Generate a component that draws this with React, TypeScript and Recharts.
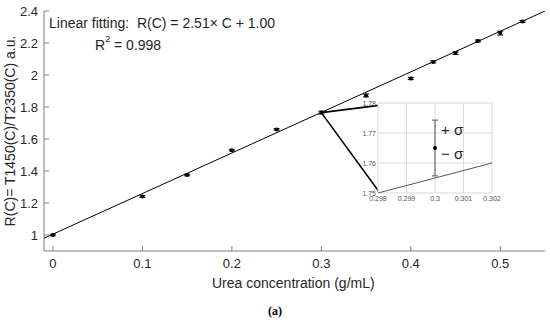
import { ComposedChart, Scatter, ErrorBar, XAxis, YAxis, CartesianGrid, ReferenceLine } from 'recharts';

const concentration = [0, 0.1, 0.15, 0.2, 0.25, 0.3, 0.35, 0.4, 0.425, 0.45, 0.475, 0.5, 0.525];
const ratio = [1.0, 1.24, 1.375, 1.53, 1.66, 1.765, 1.872, 1.978, 2.082, 2.137, 2.213, 2.262, 2.335];
const sigma = [0.005, 0.006, 0.005, 0.005, 0.005, 0.009, 0.009, 0.007, 0.006, 0.008, 0.006, 0.012, 0.006];

const fitX = [-0.01, 0.55];
const fitY = [0.98, 2.4];

const xTicks = [0, 0.1, 0.2, 0.3, 0.4, 0.5];
const yTicks = [1, 1.2, 1.4, 1.6, 1.8, 2, 2.2, 2.4];

// inset (zoom around C = 0.3)
const insetXTicks = [0.298, 0.299, 0.3, 0.301, 0.302];
const insetYTicks = [1.75, 1.76, 1.77, 1.78];
const insetPoint = [{ x: 0.3, y: 1.765, err: 0.0093 }];
const insetFitX = [0.298, 0.302];
const insetFitY = [1.75, 1.76];

// connectors from the main point to the inset corners (main data coords)
const connectors = [
  [{ x: 0.3, y: 1.765 }, { x: 0.3645, y: 1.81 }],
  [{ x: 0.3, y: 1.765 }, { x: 0.3645, y: 1.27 }],
];

const points = concentration.map((c, i) => ({ x: c, y: ratio[i], err: sigma[i] }));
const fitData = fitX.map((x, i) => ({ x, y: fitY[i] }));
const insetFit = insetFitX.map((x, i) => ({ x, y: insetFitY[i] }));

const FONT = '"Liberation Sans", Arial, sans-serif';
const AXIS = '#808080';
const TEXT = '#262626';

const Dot = (p: any) => <circle cx={p.cx} cy={p.cy} r={2} fill="#000" />;
const Nothing = () => <g />;

const bottomTick = (p: any) => (
  <g>
    <line x1={p.x} y1={p.y - 8} x2={p.x} y2={p.y - 13} stroke={AXIS} />
    <text x={p.x} y={p.y} dy="0.71em" textAnchor="middle" fontSize={13} fill={TEXT} fontFamily={FONT}>
      {p.payload.value}
    </text>
  </g>
);
const leftTick = (p: any) => (
  <g>
    <line x1={p.x + 6} y1={p.y} x2={p.x + 11} y2={p.y} stroke={AXIS} />
    <text x={p.x} y={p.y} dy="0.36em" textAnchor="end" fontSize={13} fill={TEXT} fontFamily={FONT}>
      {p.payload.value}
    </text>
  </g>
);
const topTick = (p: any) => <line x1={p.x} y1={p.y} x2={p.x} y2={p.y + 5} stroke={AXIS} />;
const rightTick = (p: any) => <line x1={p.x} y1={p.y} x2={p.x - 5} y2={p.y} stroke={AXIS} />;

const insetBottomTick = (p: any) => (
  <text x={p.x} y={p.y} dy="0.71em" textAnchor="middle" fontSize={7} fill="#555" fontFamily={FONT}>
    {p.payload.value}
  </text>
);
const insetLeftTick = (p: any) => (
  <text x={p.x} y={p.y} dy="0.36em" textAnchor="end" fontSize={7} fill="#555" fontFamily={FONT}>
    {p.payload.value}
  </text>
);

function Inset() {
  return (
    <ComposedChart width={150} height={106} margin={{ top: 5, right: 16, bottom: 0, left: 0 }}>
      <CartesianGrid stroke="#d9d9d9" fill="#fff" horizontalValues={insetYTicks} verticalValues={insetXTicks} />
      <XAxis
        type="number"
        dataKey="x"
        domain={[0.298, 0.302]}
        ticks={insetXTicks}
        interval={0}
        allowDataOverflow
        axisLine={false}
        tickLine={false}
        tickSize={0}
        tickMargin={3}
        height={11}
        tick={insetBottomTick}
      />
      <YAxis
        type="number"
        dataKey="y"
        domain={[1.75, 1.78]}
        ticks={insetYTicks}
        interval={0}
        allowDataOverflow
        axisLine={false}
        tickLine={false}
        tickSize={0}
        tickMargin={2}
        width={20}
        tick={insetLeftTick}
      />
      <Scatter data={insetFit} line={{ stroke: '#555', strokeWidth: 1 }} shape={Nothing} isAnimationActive={false} />
      <Scatter data={insetPoint} shape={Dot} isAnimationActive={false}>
        <ErrorBar dataKey="err" direction="y" width={3} stroke="#555" strokeWidth={1} />
      </Scatter>
    </ComposedChart>
  );
}

export default function App() {
  const text = { position: 'absolute' as const, fontFamily: FONT, color: TEXT, whiteSpace: 'nowrap' as const };
  return (
    <div style={{ position: 'absolute', left: 0, top: 0, width: 550, height: 326, background: '#fff' }}>
      <ComposedChart width={550} height={300} margin={{ top: 11, right: 5, bottom: 8, left: 14 }}>
        <XAxis
          xAxisId="b"
          type="number"
          dataKey="x"
          domain={[-0.01, 0.55]}
          ticks={xTicks}
          interval={0}
          allowDataOverflow
          stroke={AXIS}
          tickLine={false}
          tickSize={0}
          tickMargin={8}
          height={41}
          tick={bottomTick}
        />
        <XAxis
          xAxisId="t"
          orientation="top"
          type="number"
          dataKey="x"
          domain={[-0.01, 0.55]}
          ticks={xTicks}
          interval={0}
          allowDataOverflow
          stroke={AXIS}
          tickLine={false}
          tickSize={0}
          tickMargin={0}
          height={0}
          tick={topTick}
        />
        <YAxis
          yAxisId="l"
          type="number"
          dataKey="y"
          domain={[0.9, 2.4]}
          ticks={yTicks}
          interval={0}
          allowDataOverflow
          stroke={AXIS}
          tickLine={false}
          tickSize={0}
          tickMargin={6}
          width={30}
          tick={leftTick}
        />
        <YAxis
          yAxisId="r"
          orientation="right"
          type="number"
          dataKey="y"
          domain={[0.9, 2.4]}
          ticks={yTicks}
          interval={0}
          allowDataOverflow
          stroke={AXIS}
          tickLine={false}
          tickSize={0}
          tickMargin={0}
          width={0}
          tick={rightTick}
        />
        <Scatter
          xAxisId="b"
          yAxisId="l"
          data={fitData}
          line={{ stroke: '#000', strokeWidth: 1 }}
          shape={Nothing}
          isAnimationActive={false}
        />
        <Scatter xAxisId="b" yAxisId="l" data={points} shape={Dot} isAnimationActive={false}>
          <ErrorBar dataKey="err" direction="y" width={3} stroke="#000" strokeWidth={1} />
        </Scatter>
        {connectors.map((seg, i) => (
          <ReferenceLine key={i} xAxisId="b" yAxisId="l" segment={seg} stroke="#000" strokeWidth={1.6} ifOverflow="visible" />
        ))}
      </ComposedChart>

      <div style={{ position: 'absolute', left: 358, top: 98 }}>
        <Inset />
      </div>

      <div style={{ ...text, left: 49, top: 15, fontSize: 14 }}>Linear fitting:&nbsp; R(C) = 2.51× C + 1.00</div>
      <div style={{ ...text, left: 95, top: 37, fontSize: 14 }}>
        R<sup style={{ fontSize: 9, verticalAlign: 'top', position: 'relative', top: -3 }}>2</sup> = 0.998
      </div>

      <div style={{ ...text, left: 441, top: 121, fontSize: 15 }}>+ σ</div>
      <div style={{ ...text, left: 441, top: 145, fontSize: 15 }}>− σ</div>

      <div style={{ ...text, left: 212, top: 275, fontSize: 14 }}>Urea concentration (g/mL)</div>
      <div
        style={{
          ...text,
          left: 10,
          top: 131,
          fontSize: 14,
          transform: 'translate(-50%, -50%) rotate(-90deg)',
        }}
      >
        R(C)= T1450(C)/T2350(C) a.u.
      </div>
      <div
        style={{
          position: 'absolute',
          left: 0,
          top: 304,
          width: 550,
          textAlign: 'center',
          fontFamily: '"Liberation Serif", "Times New Roman", serif',
          fontWeight: 'bold',
          fontSize: 12,
          color: '#000',
        }}
      >
        (a)
      </div>
    </div>
  );
}
